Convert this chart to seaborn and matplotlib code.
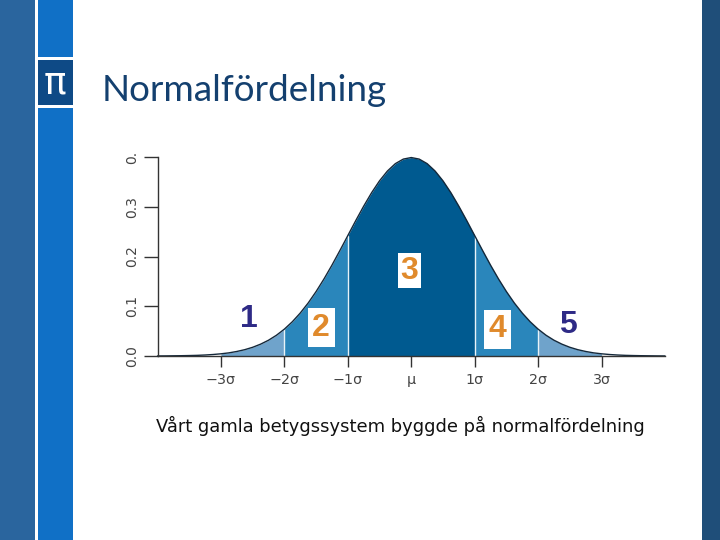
import numpy as np
import pandas as pd
import matplotlib
matplotlib.use("Agg")
import matplotlib.pyplot as plt
from matplotlib.patches import Rectangle
import seaborn as sns

title = "Normalfördelning"
caption = "Vårt gamla betygssystem byggde på normalfördelning"
x_ticks = [-3, -2, -1, 0, 1, 2, 3]
x_labels = ["−3σ", "−2σ", "−1σ", "μ", "1σ", "2σ", "3σ"]
y_ticks = [0.0, 0.1, 0.2, 0.3, 0.4]
y_labels = ["0.0", "0.1", "0.2", "0.3", "0."]

sigma = [-4, -3.875, -3.75, -3.625, -3.5, -3.375, -3.25, -3.125, -3, -2.875, -2.75,
         -2.625, -2.5, -2.375, -2.25, -2.125, -2, -1.875, -1.75, -1.625, -1.5, -1.375,
         -1.25, -1.125, -1, -0.875, -0.75, -0.625, -0.5, -0.375, -0.25, -0.125, 0,
         0.125, 0.25, 0.375, 0.5, 0.625, 0.75, 0.875, 1, 1.125, 1.25, 1.375, 1.5, 1.625,
         1.75, 1.875, 2, 2.125, 2.25, 2.375, 2.5, 2.625, 2.75, 2.875, 3, 3.125, 3.25,
         3.375, 3.5, 3.625, 3.75, 3.875, 4]
density = [.0001, .0002, .0004, .0006, .0009, .0013, .0020, .0030, .0044, .0063, .0091,
           .0127, .0175, .0238, .0317, .0417, .0540, .0688, .0863, .1065, .1295, .1550,
           .1826, .2119, .2420, .2721, .3011, .3282, .3521, .3719, .3867, .3958, .3989,
           .3958, .3867, .3719, .3521, .3282, .3011, .2721, .2420, .2119, .1826, .1550,
           .1295, .1065, .0863, .0688, .0540, .0417, .0317, .0238, .0175, .0127, .0091,
           .0063, .0044, .0030, .0020, .0013, .0009, .0006, .0004, .0002, .0001]
bands = [(-3, -2, "#6fa3cb"), (-2, -1, "#2a86bb"), (-1, 1, "#005a90"),
         (1, 2, "#2a86bb"), (2, 3, "#6fa3cb")]
grades = ["1", "2", "3", "4", "5"]
grade_x = [-2.56, -1.42, -0.03, 1.36, 2.47]
grade_y = [0.0745, 0.0565, 0.171, 0.054, 0.0625]
grade_pad = [None, 3.2, 1.8, 3.2, None]

W, H = 720, 540
sns.set_style("white")
plt.rcParams["font.family"] = ["DejaVu Sans"]
fig = plt.figure(figsize=(W / 100, H / 100), dpi=100, facecolor="white")


def box(x0, y0, x1, y1, color):
    fig.add_artist(Rectangle((x0 / W, 1 - y1 / H), (x1 - x0) / W, (y1 - y0) / H,
                             transform=fig.transFigure, fc=color, ec="none"))


box(0, 0, 35, H, "#2a659e")
box(38, 0, 73, H, "#1070c6")
box(38, 57, 73, 108, "white")
box(38, 60, 73, 105, "#0e4a86")
box(702, 0, W, H, "#1f4e79")

fig.text(55 / W, 1 - 83 / H, "π", family="DejaVu Sans", color="white",
         fontsize=27, ha="center", va="center")
fig.text(102 / W, 1 - 101 / H, title, family="Lato", color="#14406f", fontsize=26.6,
         ha="left", va="baseline")
fig.text(156 / W, 1 - 432 / H, caption, family="DejaVu Sans", color="#111111",
         fontsize=12.85, ha="left", va="baseline")

ax = fig.add_axes([157.5 / W, 1 - 356 / H, (665 - 157.5) / W, 199 / H])
ax.patch.set_alpha(0)
df = pd.DataFrame({"sigma": sigma, "density": density})
s = df["sigma"].to_numpy()
d = df["density"].to_numpy()
for lo, hi, color in bands:
    m = (s >= lo) & (s <= hi)
    ax.fill_between(s[m], 0, d[m], color=color, lw=0)
for v in (-2, -1, 1, 2):
    ax.plot([v, v], [0, d[s == v][0]], color="#e8f3f8", lw=1)
sns.lineplot(data=df, x="sigma", y="density", ax=ax, color="#14283a", lw=1.0, clip_on=False)

ax.set_xlim(-4, 4)
ax.set_ylim(0, 0.4)
ax.set_xlabel("")
ax.set_ylabel("")
ax.set_xticks(x_ticks, x_labels)
ax.set_yticks(y_ticks, y_labels)
ax.tick_params(axis="x", length=8, width=1, color="#333333", labelcolor="#444444",
               labelsize=10.3, pad=4, bottom=True)
ax.tick_params(axis="y", length=10, width=1, color="#333333", labelcolor="#444444",
               labelsize=10, pad=3, left=True)
for t in ax.get_yticklabels():
    t.set_rotation(90)
    t.set_va("center")
sns.despine(ax=ax)
for sp in ("left", "bottom"):
    ax.spines[sp].set_color("#333333")
    ax.spines[sp].set_linewidth(1)

for g, gx, gy, pad in zip(grades, grade_x, grade_y, grade_pad):
    ax.text(gx, gy, g, fontsize=23, fontweight="bold", family="Liberation Sans", ha="center", va="center",
            color="#e08a2c" if pad else "#2e2a86",
            bbox=dict(fc="white", ec="none", pad=pad) if pad else None)

fig.savefig("out.png", dpi=100)
